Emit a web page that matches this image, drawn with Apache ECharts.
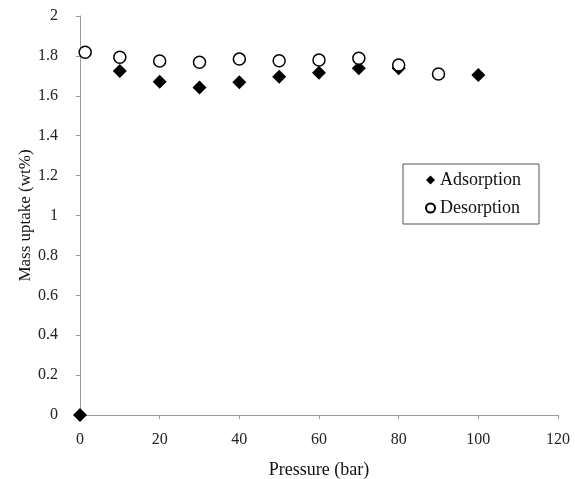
<!DOCTYPE html>
<html>
<head>
<meta charset="UTF-8">
<title></title>
<script src="https://cdn.jsdelivr.net/npm/echarts@6/dist/echarts.min.js"></script>
</head>
<body style="margin:0;background:#fff;">
<div id="chart" style="width:575px;height:479px;"></div>
<script>
// pressure (bar) / mass uptake (wt%)
var adsPressure = [0, 10, 20, 30, 40, 50, 60, 70, 80, 100];
var adsUptake   = [0, 1.724, 1.671, 1.641, 1.668, 1.696, 1.716, 1.738, 1.738, 1.704];
var desPressure = [1.3, 10, 20, 30, 40, 50, 60, 70, 80, 90];
var desUptake   = [1.818, 1.793, 1.774, 1.768, 1.784, 1.776, 1.779, 1.788, 1.754, 1.709];

function pairs(xs, ys) {
  return xs.map(function (x, i) { return [x, ys[i]]; });
}

var serif = '"Liberation Serif", "DejaVu Serif", serif';
var chart = echarts.init(document.getElementById('chart'));

chart.setOption({
  animation: false,
  textStyle: { fontFamily: serif },
  grid: { left: 80, right: 17, top: 16, bottom: 64, containLabel: false, outerBoundsMode: 'none' },
  legend: {
    orient: 'vertical',
    left: 403, top: 164,
    width: 140,
    padding: [7, 18, 7, 22],
    itemGap: 10,
    itemWidth: 9, itemHeight: 9,
    borderColor: '#555', borderWidth: 1,
    textStyle: { fontFamily: serif, fontSize: 18, color: '#111' },
    data: ['Adsorption', 'Desorption']
  },
  xAxis: {
    type: 'value', min: 0, max: 120, interval: 20,
    name: 'Pressure (bar)', nameLocation: 'middle', nameGap: 46,
    nameMoveOverlap: false,
    nameTextStyle: { fontFamily: serif, fontSize: 18, color: '#111' },
    axisLine: { lineStyle: { color: '#999' } },
    axisTick: { show: true, length: 4, lineStyle: { color: '#999' } },
    axisLabel: { fontFamily: serif, fontSize: 16, color: '#222', margin: 17 },
    splitLine: { show: false }
  },
  yAxis: {
    type: 'value', min: 0, max: 2, interval: 0.2,
    name: 'Mass uptake (wt%)', nameLocation: 'middle', nameGap: 46,
    nameMoveOverlap: false,
    nameTextStyle: { fontFamily: serif, fontSize: 17, color: '#111' },
    axisLine: { show: true, lineStyle: { color: '#999' } },
    axisTick: { show: true, length: 4, lineStyle: { color: '#999' } },
    axisLabel: { fontFamily: serif, fontSize: 16, color: '#222', margin: 22 },
    splitLine: { show: false }
  },
  series: [
    {
      name: 'Adsorption', type: 'scatter',
      symbol: 'diamond', symbolSize: 14,
      itemStyle: { color: '#000', opacity: 1 },
      data: pairs(adsPressure, adsUptake)
    },
    {
      name: 'Desorption', type: 'scatter',
      symbol: 'circle', symbolSize: 12,
      itemStyle: { color: '#fff', borderColor: '#000', borderWidth: 1.5, opacity: 1 },
      data: pairs(desPressure, desUptake)
    }
  ]
});
</script>
</body>
</html>
